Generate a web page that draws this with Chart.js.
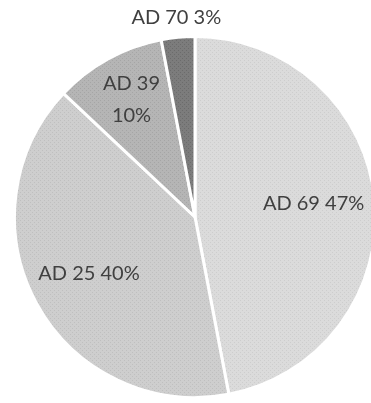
<!DOCTYPE html>
<html>
<head>
<meta charset="utf-8">
<script src="https://cdn.jsdelivr.net/npm/chart.js@4/dist/chart.umd.min.js"></script>
<style>
  html, body { margin: 0; padding: 0; background: #fff; overflow: hidden; }
  #wrap { position: relative; width: 390px; height: 403px; }
</style>
</head>
<body>
<div id="wrap"><canvas id="pie"></canvas></div>
<script>
const categories = ['AD 69', 'AD 25', 'AD 39', 'AD 70'];
const shares = [47, 40, 10, 3]; // percent

const baseColors = ['#dbdbdb', '#cecece', '#b5b5b5', '#7c7c7c'];
const dotColors = ['#cdcdcd', '#bfbfbf', '#a5a5a5', '#6b6b6b'];

// little dotted fill, like the office pattern
function dotted(base, dot) {
    const c = document.createElement('canvas');
    c.width = 4; c.height = 4;
    const g = c.getContext('2d');
    g.fillStyle = base;
    g.fillRect(0, 0, 4, 4);
    g.fillStyle = dot;
    g.fillRect(0, 0, 1, 1);
    g.fillRect(2, 2, 1, 1);
    return g.createPattern(c, 'repeat');
}

// label distance as a fraction of the radius, and line breaks
const labelDist = [0.66, 0.67, 0.73, 1.10];
const labelLines = [
    (c, p) => [c + ' ' + p + '%'],
    (c, p) => [c + ' ' + p + '%'],
    (c, p) => [c, p + '%'],
    (c, p) => [c + ' ' + p + '%']
];

const sliceLabels = {
    id: 'sliceLabels',
    afterDatasetsDraw(chart) {
        const ctx = chart.ctx;
        const meta = chart.getDatasetMeta(0);
        ctx.save();
        ctx.font = '20px Lato, "Open Sans", sans-serif';
        ctx.fillStyle = '#404040';
        ctx.textAlign = 'center';
        ctx.textBaseline = 'middle';
        meta.data.forEach((arc, i) => {
            const mid = (arc.startAngle + arc.endAngle) / 2;
            const r = arc.outerRadius * labelDist[i];
            const x = arc.x + Math.cos(mid) * r;
            const y = arc.y + Math.sin(mid) * r - 2;
            const lines = labelLines[i](categories[i], shares[i]);
            const lh = 32;
            lines.forEach((t, k) => {
                ctx.fillText(t, x, y + (k - (lines.length - 1) / 2) * lh);
            });
        });
        ctx.restore();
    }
};

new Chart(document.getElementById('pie'), {
    type: 'pie',
    data: {
        labels: categories,
        datasets: [{
            data: shares,
            backgroundColor: baseColors.map((b, i) => dotted(b, dotColors[i])),
            borderColor: '#ffffff',
            borderWidth: 3
        }]
    },
    options: {
        responsive: true,
        maintainAspectRatio: false,
        animation: false,
        layout: { padding: { left: 13, top: 35, right: 13, bottom: 4 } },
        plugins: {
            legend: { display: false },
            tooltip: { enabled: false }
        }
    },
    plugins: [sliceLabels]
});
</script>
</body>
</html>
